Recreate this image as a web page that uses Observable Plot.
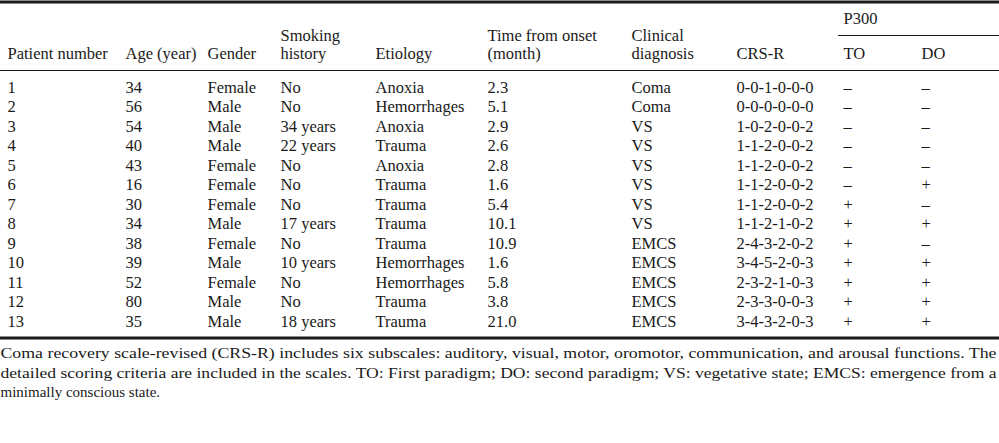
<!DOCTYPE html>
<html>
<head>
<meta charset="utf-8">
<script src="https://cdn.jsdelivr.net/npm/d3@7"></script>
<script src="https://cdn.jsdelivr.net/npm/@observablehq/plot@0.6"></script>
<style>
  html, body { margin: 0; padding: 0; background: #fff; }
  #chart svg { display: block; }
</style>
</head>
<body>
<div id="chart"></div>
<script>
// ---------- data ----------
const headerTop    = ["", "", "", "Smoking", "", "Time from onset", "Clinical", "", "", ""];
const headerBottom = ["Patient number", "Age (year)", "Gender", "history", "Etiology", "(month)", "diagnosis", "CRS-R", "TO", "DO"];
const groupHeader  = "P300";

const patient   = [1, 2, 3, 4, 5, 6, 7, 8, 9, 10, 11, 12, 13];
const age       = [34, 56, 54, 40, 43, 16, 30, 34, 38, 39, 52, 80, 35];
const gender    = ["Female", "Male", "Male", "Male", "Female", "Female", "Female", "Male", "Female", "Male", "Female", "Male", "Male"];
const smoking   = ["No", "No", "34 years", "22 years", "No", "No", "No", "17 years", "No", "10 years", "No", "No", "18 years"];
const etiology  = ["Anoxia", "Hemorrhages", "Anoxia", "Trauma", "Anoxia", "Trauma", "Trauma", "Trauma", "Trauma", "Hemorrhages", "Hemorrhages", "Trauma", "Trauma"];
const timeOnset = [2.3, 5.1, 2.9, 2.6, 2.8, 1.6, 5.4, 10.1, 10.9, 1.6, 5.8, 3.8, 21.0];
const diagnosis = ["Coma", "Coma", "VS", "VS", "VS", "VS", "VS", "VS", "EMCS", "EMCS", "EMCS", "EMCS", "EMCS"];
const crsr      = ["0-0-1-0-0-0", "0-0-0-0-0-0", "1-0-2-0-0-2", "1-1-2-0-0-2", "1-1-2-0-0-2", "1-1-2-0-0-2", "1-1-2-0-0-2", "1-1-2-1-0-2", "2-4-3-2-0-2", "3-4-5-2-0-3", "2-3-2-1-0-3", "2-3-3-0-0-3", "3-4-3-2-0-3"];
const p300TO    = ["–", "–", "–", "–", "–", "–", "+", "+", "+", "+", "+", "+", "+"];
const p300DO    = ["–", "–", "–", "–", "–", "+", "–", "+", "–", "+", "+", "+", "+"];

const footnote = [
  "Coma recovery scale-revised (CRS-R) includes six subscales: auditory, visual, motor, oromotor, communication, and arousal functions. The",
  "detailed scoring criteria are included in the scales. TO: First paradigm; DO: second paradigm; VS: vegetative state; EMCS: emergence from a",
  "minimally conscious state."
];

// ---------- layout (not data) ----------
const W = 999, H = 443;
const layout = {
  colX: [7, 125, 207, 280, 375, 487, 631, 736, 843, 921],
  groupY: 18, groupRuleY: 35, groupX1: 838,
  headTopY: 35, headBottomY: 53,
  headRuleY: 70,
  firstRowY: 87, rowStep: 19.5,
  topRuleY: 1.5, bottomRuleY: 337.5,
  footY: [353, 373, 392], footJustifyWidth: 996
};

// build table from the arrays
const fmt1 = d3.format(".1f");
const columnsData = [
  patient.map(String), age.map(String), gender, smoking, etiology,
  timeOnset.map(fmt1), diagnosis, crsr, p300TO, p300DO
];
const cells = [];
columnsData.forEach((col, c) => col.forEach((v, r) => cells.push({c, r, v})));

const headCells = [];
headerTop.forEach((t, c) => { if (t) headCells.push({c, y: layout.headTopY, v: t}); });
headerBottom.forEach((t, c) => headCells.push({c, y: layout.headBottomY, v: t}));
headCells.push({c: 8, y: layout.groupY, v: groupHeader});

const footCells = footnote.map((t, i) => ({i, v: t}));

const ink = "#1a1a1a";
const plot = Plot.plot({
  width: W, height: H,
  margin: 0,
  x: {type: "linear", domain: [0, W], range: [0, W], axis: null},
  y: {type: "linear", domain: [0, H], range: [0, H], axis: null},
  style: {fontFamily: "'Liberation Serif', 'Times New Roman', serif", fontSize: "16.5px", color: ink, background: "#fff"},
  marks: [
    // rules
    Plot.ruleY([layout.topRuleY], {x1: 0, x2: W, stroke: ink, strokeWidth: 3}),
    Plot.ruleY([layout.groupRuleY], {x1: layout.groupX1, x2: W, stroke: ink, strokeWidth: 1.2}),
    Plot.ruleY([layout.headRuleY], {x1: 0, x2: W, stroke: ink, strokeWidth: 1.2}),
    Plot.ruleY([layout.bottomRuleY], {x1: 0, x2: W, stroke: ink, strokeWidth: 3}),
    // header
    Plot.text(headCells, {
      x: d => layout.colX[d.c], y: "y", text: "v",
      textAnchor: "start", lineAnchor: "middle", fill: ink, fontSize: 16.5
    }),
    // body
    Plot.text(cells, {
      x: d => layout.colX[d.c], y: d => layout.firstRowY + d.r * layout.rowStep, text: "v",
      textAnchor: "start", lineAnchor: "middle", fill: ink, fontSize: 16.5
    }),
    // footnote
    Plot.text(footCells, {
      x: 0, y: d => layout.footY[d.i], text: "v",
      textAnchor: "start", lineAnchor: "middle", fill: ink, fontSize: 15,
      className: "foot"
    })
  ]
});

document.getElementById("chart").appendChild(plot);

// justify first two footnote lines to the full width
const footTexts = plot.querySelectorAll("g.foot text");
footTexts.forEach((t, i) => {
  if (i < footnote.length - 1) {
    t.setAttribute("textLength", layout.footJustifyWidth);
    t.setAttribute("lengthAdjust", "spacingAndGlyphs");
  }
});
</script>
</body>
</html>
